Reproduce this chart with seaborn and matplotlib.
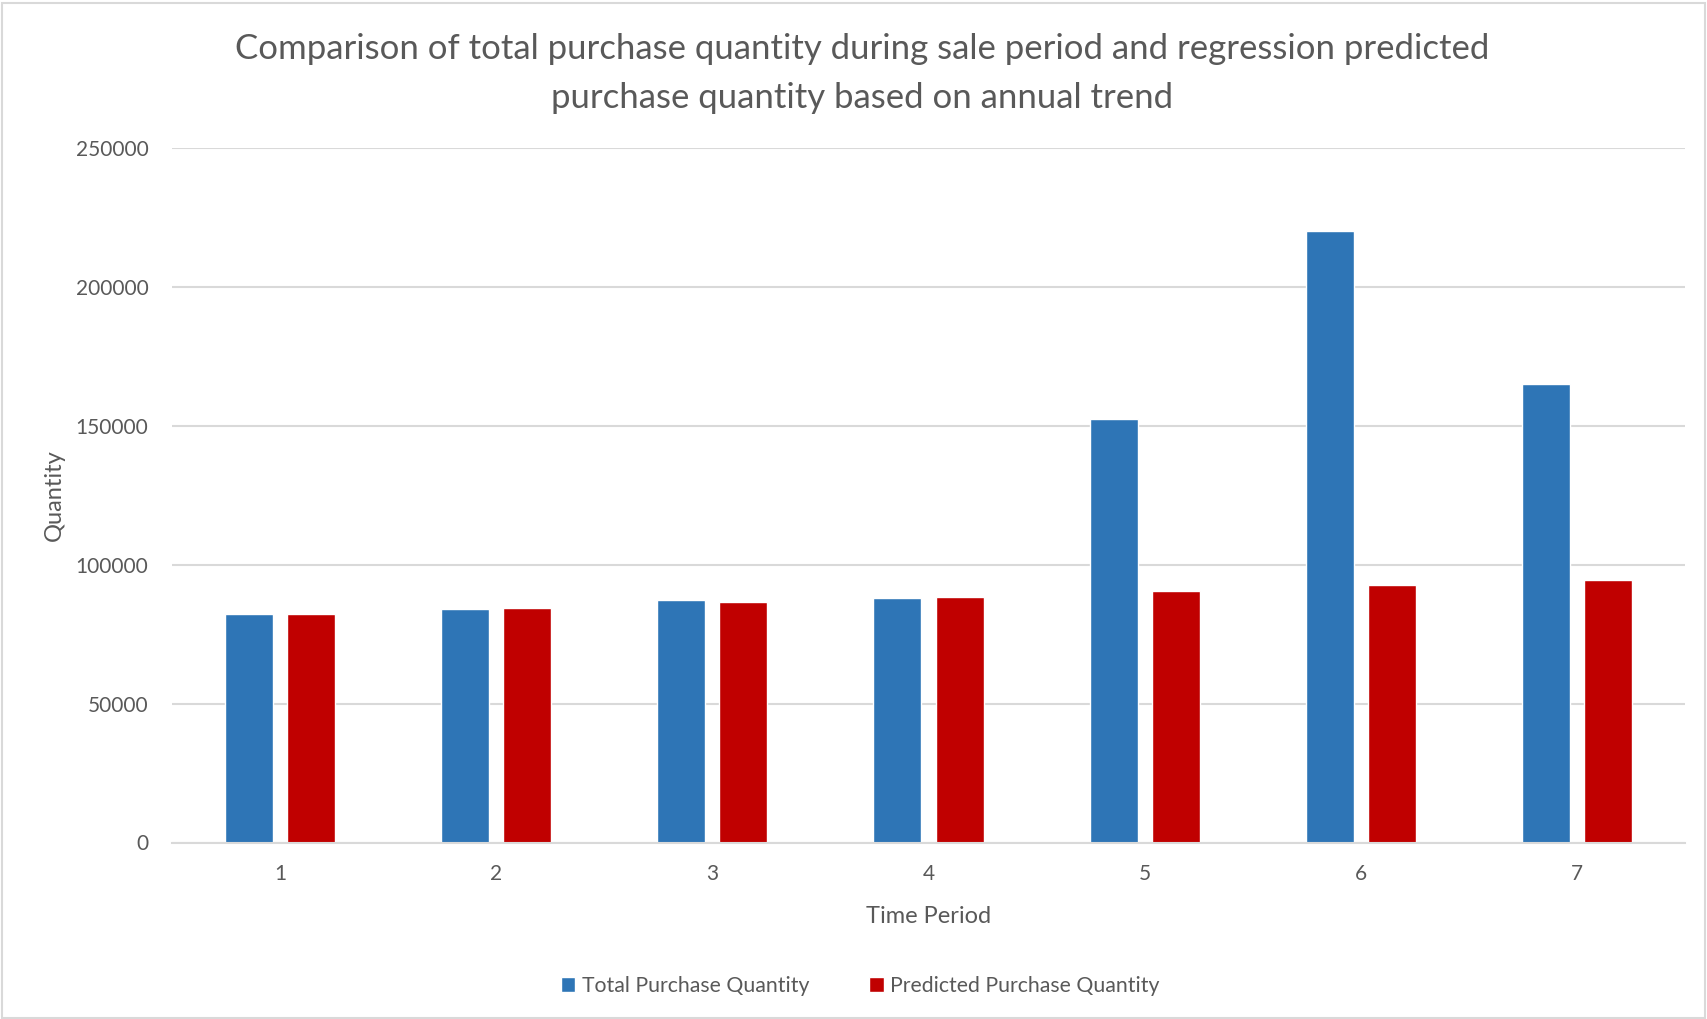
import matplotlib
matplotlib.use("Agg")
import matplotlib.pyplot as plt
from matplotlib.patches import Rectangle
import seaborn as sns
import pandas as pd

# Sale-period purchases vs. regression forecast from the yearly trend
periods = ["1", "2", "3", "4", "5", "6", "7"]
total_qty = [82300, 83900, 87300, 87900, 152400, 220000, 165000]
predicted_qty = [82300, 84400, 86400, 88300, 90500, 92500, 94400]
series_names = ["Total Purchase Quantity", "Predicted Purchase Quantity"]
y_ticks = [0, 50000, 100000, 150000, 200000, 250000]

BLUE = "#2E75B6"
RED = "#C00000"
TEXT = "#595959"
GRID = "#D9D9D9"

df = pd.DataFrame({
    "Time Period": periods * 2,
    "Quantity": total_qty + predicted_qty,
    "Series": [series_names[0]] * len(periods) + [series_names[1]] * len(periods),
})

sns.set_theme(style="white")
plt.rcParams["font.family"] = ["Lato", "DejaVu Sans"]

fig = plt.figure(figsize=(17.07, 10.19), dpi=100)
ax = fig.add_axes([172 / 1707, 1 - 842.5 / 1019, (1685 - 172) / 1707, (842.5 - 147.7) / 1019])

sns.barplot(
    data=df, x="Time Period", y="Quantity", hue="Series",
    order=periods, hue_order=series_names,
    palette=[BLUE, RED], width=0.574, gap=0.226,
    saturation=1, errorbar=None, ax=ax, legend=True,
)

ax.set_ylim(0, 250000)
ax.set_xlim(-0.5, len(periods) - 0.5)
ax.set_yticks(y_ticks)
ax.set_yticklabels([str(v) for v in y_ticks])
ax.yaxis.grid(True, color=GRID, linewidth=1.5)
ax.set_axisbelow(True)
for side in ["top", "right", "left"]:
    ax.spines[side].set_visible(False)
ax.spines["bottom"].set_color(GRID)
ax.spines["bottom"].set_linewidth(1.5)
ax.tick_params(axis="both", length=0, colors=TEXT, labelsize=15)
ax.tick_params(axis="y", pad=17)
ax.tick_params(axis="x", pad=15.5)

ax.set_xlabel("Time Period", fontsize=17, color=TEXT, labelpad=16)
ax.set_ylabel("Quantity", fontsize=17, color=TEXT, labelpad=8)

handles, labels = ax.get_legend_handles_labels()
ax.get_legend().remove()
fig.legend(
    handles, labels, loc="center", bbox_to_anchor=(860 / 1707, 1 - 985.5 / 1019),
    ncol=2, frameon=False, fontsize=15.3, labelcolor=TEXT,
    handlelength=0.7, handleheight=0.7, handletextpad=0.3, columnspacing=2.8,
)

fig.text(
    862 / 1707, 1 - 73.6 / 1019,
    "Comparison of total purchase quantity during sale period and regression predicted\n"
    "purchase quantity based on annual trend",
    ha="center", va="center", fontsize=25, color=TEXT, linespacing=1.67,
)

fig.patches.append(Rectangle((0.001, 0.001), 0.998, 0.996, transform=fig.transFigure,
                             fill=False, edgecolor=GRID, linewidth=1.5))

fig.savefig("out.png", dpi=100, facecolor="white")
